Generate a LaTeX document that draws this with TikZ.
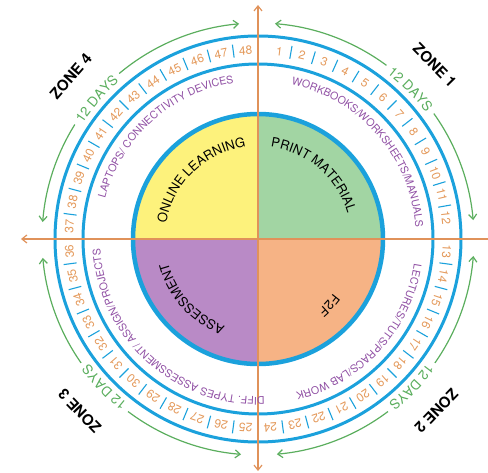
\documentclass[tikz,border=0pt]{standalone}
\usepackage{fontspec}
\setmainfont{TeX Gyre Heros}
\usetikzlibrary{arrows.meta, decorations.text}

\definecolor{ringblue}{HTML}{1BA1DC}
\definecolor{axisorange}{HTML}{E0925A}
\definecolor{numorange}{HTML}{E49A5C}
\definecolor{daygreen}{HTML}{5BAE5E}
\definecolor{ringpurple}{HTML}{9050A4}
\definecolor{quadyellow}{HTML}{FDF27C}
\definecolor{quadgreen}{HTML}{A2D5A3}
\definecolor{quadpurple}{HTML}{B98AC6}
\definecolor{quadorange}{HTML}{F6B385}

\newcommand{\ringfont}{\fontsize{10.6}{12}\selectfont}
\newcommand{\quadfont}{\fontsize{13}{14}\selectfont}
\newcommand{\dayfont}{\fontsize{13.5}{14}\selectfont}

\tikzset{
  numlabel/.style={text=numorange, font=\fontsize{12}{12}\selectfont, inner sep=0pt},
  zonelabel/.style={font=\bfseries\fontsize{15}{15}\selectfont, inner sep=0pt},
  ringline/.style={ringblue, line width=3pt},
  axisline/.style={axisorange, line width=1.2pt},
  dayarc/.style={daygreen, line width=1.2pt, ->},
  sepline/.style={ringblue, line width=1.1pt}
}

\begin{document}
\begin{tikzpicture}[x=1pt, y=1pt, >={Straight Barb[length=5pt, width=8pt]},
    declare function={numang(\k)=(\k<13)*(83.5-7*(\k-1))+(\k>12)*(90-7.5*(\k-0.5));}]
    \useasboundingbox (-258,-233) rectangle (230,239);
    % text running clockwise round the centre: centre angle, baseline radius, font, colour, text
    \newcommand{\curvedtext}[5]{
        \path[decorate, decoration={text along path, text align=center, text color=#4,
            text={|#3|#5}}] ({#1+80}:#2) arc[start angle=#1+80, end angle=#1-80, radius=#2];
    }
    % zone label, days label and its two arrows: label angle, quadrant start, zone number
    \newcommand{\zonelabels}[3]{
        \curvedtext{#1}{210}{\dayfont}{daygreen}{12 DAYS}
        \node[zonelabel, rotate=#1-90] (zone#3) at (#1:248) {ZONE #3};
        \draw[dayarc] ({#1+9}:216) arc[start angle=#1+9, end angle=#2+85.5, radius=216];
        \draw[dayarc] ({#1-9}:216) arc[start angle=#1-9, end angle=#2+5, radius=216];
    }

    % inner circle
    \fill[quadgreen]  (0,0) -- (0:125)   arc[start angle=0,   end angle=90,  radius=125] -- cycle;
    \fill[quadyellow] (0,0) -- (90:125)  arc[start angle=90,  end angle=180, radius=125] -- cycle;
    \fill[quadpurple] (0,0) -- (180:125) arc[start angle=180, end angle=270, radius=125] -- cycle;
    \fill[quadorange] (0,0) -- (270:125) arc[start angle=270, end angle=360, radius=125] -- cycle;
    \draw[ringblue, line width=4.5pt] (0,0) circle (125);

    % day ring
    \draw[ringline] (0,0) circle (203);
    \draw[ringline] (0,0) circle (175);
    \foreach \k in {1,...,48}{
        \pgfmathsetmacro\ang{numang(\k)}
        \node[numlabel, rotate=\ang-90] (n\k) at (\ang:189) {\k};
    }
    \foreach \k in {1,...,47}{
        \pgfmathtruncatemacro\z{mod(\k,12)}
        \ifnum\z>0
            \pgfmathsetmacro\mid{(numang(\k)+numang(\k+1))/2}
            \draw[sepline] (\mid:183) -- (\mid:196);
        \fi
    }

    % axes
    \coordinate (ctr) at (0,0);
    \coordinate (north) at (0,234);
    \coordinate (south) at (0,-232);
    \coordinate (west) at (-237,0);
    \coordinate (east) at (230,0);
    \draw[axisline, <->] (south) -- (north);
    \draw[axisline, <-] (west) -- (east);

    % quadrant names
    \curvedtext{134}{93}{\quadfont}{black}{ONLINE LEARNING}
    \curvedtext{49}{93}{\quadfont}{black}{PRINT MATERIAL}
    \curvedtext{222}{93}{\quadfont}{black}{ASSESSMENT}
    \curvedtext{-43}{93}{\quadfont}{black}{F2F}

    % resources
    \curvedtext{41}{158}{\ringfont}{ringpurple}{WORKBOOKS/WORKSHEETS/MANUALS}
    \curvedtext{-42.5}{158}{\ringfont}{ringpurple}{LECTURES/TUTS/PRACS/LAB WORK}
    \curvedtext{228}{158}{\ringfont}{ringpurple}{DIFF. TYPES ASSESSMENT/ ASSIGN/PROJECTS}
    \curvedtext{132}{158}{\ringfont}{ringpurple}{LAPTOPS/ CONNECTIVITY DEVICES}

    % zones
    \zonelabels{44.5}{0}{1}
    \zonelabels{-44}{-90}{2}
    \zonelabels{224}{180}{3}
    \zonelabels{139}{90}{4}
\end{tikzpicture}
\end{document}
